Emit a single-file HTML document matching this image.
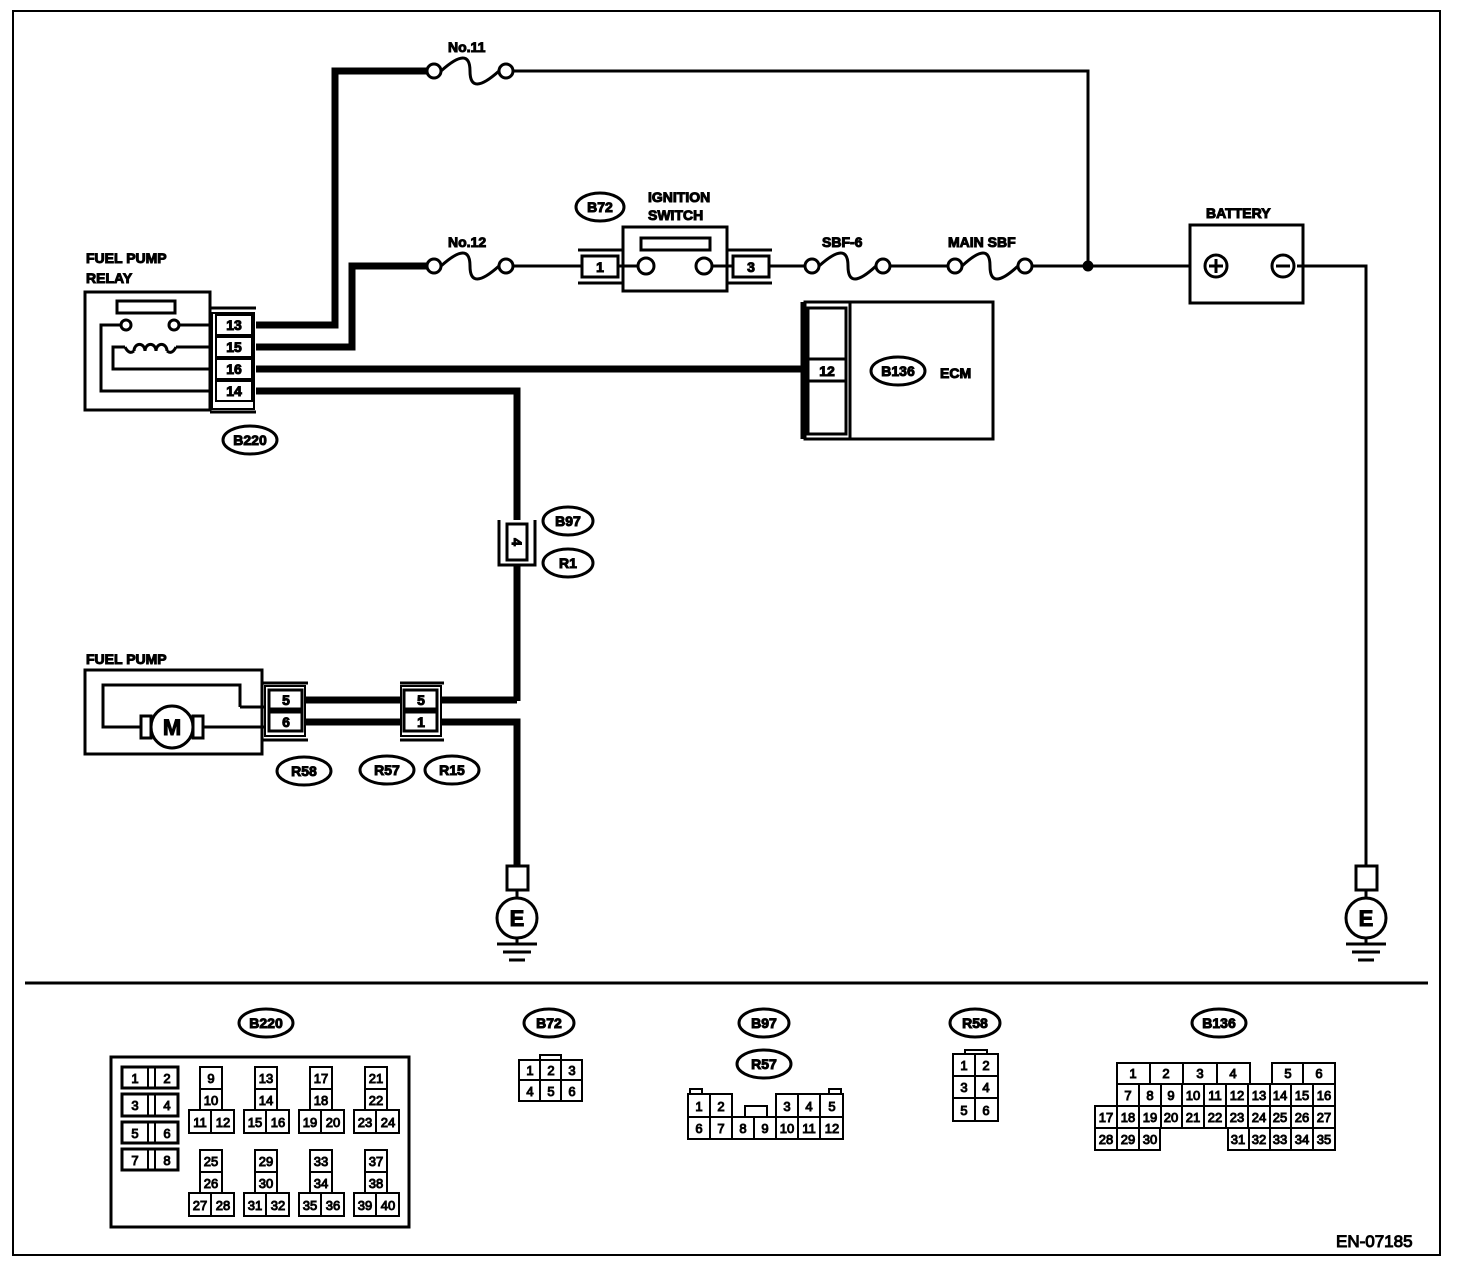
<!DOCTYPE html>
<html><head><meta charset="utf-8"><style>
body{margin:0;background:#fff}
svg text{font-family:"Liberation Sans",Arial,sans-serif;font-weight:bold;fill:#000}
svg text.n, svg g.n text{font-weight:normal}
</style></head><body>
<svg width="1472" height="1266" viewBox="0 0 1472 1266" xmlns="http://www.w3.org/2000/svg">
<g fill="none" stroke="#000">
<rect x="13" y="11" width="1427" height="1244" stroke-width="2"/>
<line x1="25" y1="983" x2="1428" y2="983" stroke-width="3"/>
<g stroke-width="7">
<polyline points="256,325 335,325 335,71 428,71"/>
<polyline points="256,347 352,347 352,266 428,266"/>
<line x1="256" y1="369" x2="808" y2="369"/>
<polyline points="256,391 517,391 517,520"/>
<line x1="517" y1="565" x2="517" y2="701"/>
<polyline points="305,700 401,700"/>
<polyline points="441,700 517,700"/>
<line x1="305" y1="722" x2="401" y2="722"/>
<polyline points="441,722 517,722 517,866"/>
</g>
<g stroke-width="3">
<polyline points="512,71 1088,71 1088,266"/>
<line x1="512" y1="266" x2="582" y2="266"/>
<line x1="769" y1="266" x2="806" y2="266"/>
<line x1="889" y1="266" x2="949" y2="266"/>
<line x1="1031" y1="266" x2="1190" y2="266"/>
<polyline points="1297,266 1366,266 1366,866"/>
<circle cx="434" cy="71" r="7"/><circle cx="506" cy="71" r="7"/><path d="M441,71 Q470,45 470,71 Q470,97 499,71"/>
<circle cx="434" cy="266" r="7"/><circle cx="506" cy="266" r="7"/><path d="M441,266 Q470,240 470,266 Q470,292 499,266"/>
<circle cx="812" cy="266" r="7"/><circle cx="883" cy="266" r="7"/><path d="M819,266 Q848,240 848,266 Q848,292 876,266"/>
<circle cx="955" cy="266" r="7"/><circle cx="1025" cy="266" r="7"/><path d="M962,266 Q990,240 990,266 Q990,292 1018,266"/>
<rect x="623" y="227" width="104" height="64"/>
<rect x="641" y="238" width="69" height="12"/>
<circle cx="646" cy="266" r="8"/><circle cx="704" cy="266" r="8"/>
<line x1="618" y1="266" x2="638" y2="266"/><line x1="712" y1="266" x2="733" y2="266"/>
<rect x="582" y="256" width="36" height="21"/><line x1="578" y1="250" x2="623" y2="250"/><line x1="578" y1="283" x2="623" y2="283"/>
<rect x="733" y="256" width="36" height="21"/><line x1="727" y1="250" x2="772" y2="250"/><line x1="727" y1="283" x2="772" y2="283"/>
<rect x="1190" y="225" width="113" height="78"/>
<circle cx="1216" cy="266" r="11"/><circle cx="1283" cy="266" r="11"/>
<line x1="1209" y1="266" x2="1223" y2="266"/><line x1="1216" y1="259" x2="1216" y2="273"/><line x1="1276" y1="266" x2="1290" y2="266"/>
<rect x="85" y="292" width="125" height="118"/>
<rect x="117" y="301" width="58" height="12"/>
<circle cx="126" cy="325" r="5"/><circle cx="174" cy="325" r="5"/>
<polyline points="121,325 101,325 101,391 212,391"/>
<line x1="179" y1="325" x2="212" y2="325"/>
<polyline points="212,347 176,347"/>
<path d="M125,347 q4,8 9,4 M176,347 q-4,8 -9,4"/>
<path d="M134,351 a5,6 0 1 1 11,0 a5,6 0 1 1 11,0 a5,6 0 1 1 11,0"/>
<polyline points="125,347 113,347 113,369 212,369"/>
<rect x="212" y="313" width="42" height="96" stroke-width="2"/>
<line x1="210" y1="308" x2="256" y2="308"/><line x1="210" y1="412" x2="256" y2="412"/>
<g stroke-width="2"><rect x="216" y="315" width="36" height="20"/><rect x="216" y="337" width="36" height="20"/><rect x="216" y="359" width="36" height="20"/><rect x="216" y="381" width="36" height="20"/></g>
<rect x="805" y="302" width="188" height="137"/>
<line x1="850" y1="302" x2="850" y2="439"/>
<rect x="808" y="308" width="38" height="126"/>
<rect x="808" y="359" width="38" height="22"/>
<line x1="802" y1="302" x2="802" y2="439"/>
<rect x="507" y="524" width="20" height="36"/>
<polyline points="499,520 499,565 535,565 535,520"/>
<rect x="85" y="670" width="177" height="84"/>
<polyline points="240,707 240,685 103,685 103,727 141,727"/>
<line x1="240" y1="707" x2="265" y2="707"/>
<line x1="203" y1="727" x2="265" y2="727"/>
<rect x="141" y="716" width="10" height="22"/><rect x="193" y="716" width="10" height="22"/>
<circle cx="172" cy="727" r="21"/>
<rect x="265" y="686" width="40" height="50" stroke-width="2"/>
<line x1="262" y1="683" x2="308" y2="683"/><line x1="262" y1="740" x2="308" y2="740"/>
<rect x="269" y="690" width="33" height="19"/><rect x="269" y="712" width="33" height="19"/>
<rect x="401" y="686" width="40" height="50" stroke-width="2"/>
<line x1="400" y1="683" x2="444" y2="683"/><line x1="400" y1="740" x2="444" y2="740"/>
<rect x="404" y="690" width="33" height="19"/><rect x="404" y="712" width="33" height="19"/>
<rect x="507" y="866" width="21" height="24"/><line x1="517" y1="890" x2="517" y2="898"/><circle cx="517" cy="918" r="20"/>
<line x1="517" y1="938" x2="517" y2="944"/><line x1="497" y1="944" x2="537" y2="944"/><line x1="503" y1="952" x2="531" y2="952"/><line x1="509" y1="960" x2="525" y2="960"/>
<rect x="1356" y="866" width="21" height="24"/><line x1="1366" y1="890" x2="1366" y2="898"/><circle cx="1366" cy="918" r="20"/>
<line x1="1366" y1="938" x2="1366" y2="944"/><line x1="1346" y1="944" x2="1386" y2="944"/><line x1="1352" y1="952" x2="1380" y2="952"/><line x1="1358" y1="960" x2="1374" y2="960"/>
<ellipse cx="250" cy="440" rx="27" ry="14"/><ellipse cx="600" cy="207" rx="24" ry="14"/>
<ellipse cx="898" cy="371" rx="27" ry="14"/>
<ellipse cx="568" cy="521" rx="25" ry="14"/><ellipse cx="568" cy="563" rx="25" ry="14"/>
<ellipse cx="304" cy="771" rx="27" ry="14"/><ellipse cx="387" cy="770" rx="27" ry="14"/><ellipse cx="452" cy="770" rx="27" ry="14"/>
<ellipse cx="266" cy="1023" rx="27" ry="14"/><ellipse cx="549" cy="1023" rx="25" ry="14"/>
<ellipse cx="764" cy="1023" rx="25" ry="14"/><ellipse cx="764" cy="1064" rx="27" ry="14"/>
<ellipse cx="975" cy="1023" rx="25" ry="14"/><ellipse cx="1219" cy="1023" rx="27" ry="14"/>
<rect x="111" y="1057" width="298" height="170" stroke-width="3"/>
<g stroke-width="2">
<rect x="122" y="1067" width="56" height="21" stroke-width="3"/><line x1="148" y1="1067" x2="148" y2="1088"/><line x1="155" y1="1067" x2="155" y2="1088"/>
<rect x="122" y="1094" width="56" height="22" stroke-width="3"/><line x1="148" y1="1094" x2="148" y2="1116"/><line x1="155" y1="1094" x2="155" y2="1116"/>
<rect x="122" y="1122" width="56" height="21" stroke-width="3"/><line x1="148" y1="1122" x2="148" y2="1143"/><line x1="155" y1="1122" x2="155" y2="1143"/>
<rect x="122" y="1149" width="56" height="21" stroke-width="3"/><line x1="148" y1="1149" x2="148" y2="1170"/><line x1="155" y1="1149" x2="155" y2="1170"/>
</g>
<g id="tw" stroke-width="2"><rect x="200" y="1067" width="22" height="43"/><line x1="200" y1="1089" x2="222" y2="1089"/><rect x="189" y="1110" width="45" height="23"/><line x1="211" y1="1110" x2="211" y2="1133"/></g>
<use href="#tw" x="55"/><use href="#tw" x="110"/><use href="#tw" x="165"/>
<use href="#tw" y="83"/><use href="#tw" x="55" y="83"/><use href="#tw" x="110" y="83"/><use href="#tw" x="165" y="83"/>
<g stroke-width="2"><rect x="519" y="1060" width="63" height="41"/><line x1="519" y1="1080" x2="582" y2="1080"/><line x1="540" y1="1060" x2="540" y2="1101"/><line x1="561" y1="1060" x2="561" y2="1101"/><rect x="540" y="1055" width="21" height="5"/></g>
<g stroke-width="2"><rect x="688" y="1117" width="155" height="22"/>
<polyline points="688,1117 688,1094 732,1094 732,1117"/><polyline points="776,1117 776,1094 843,1094 843,1117"/>
<rect x="745" y="1106" width="22" height="11"/><rect x="690" y="1089" width="12" height="5"/><rect x="829" y="1089" width="12" height="5"/>
<line x1="710" y1="1094" x2="710" y2="1139"/><line x1="732" y1="1117" x2="732" y2="1139"/><line x1="754" y1="1117" x2="754" y2="1139"/><line x1="776" y1="1117" x2="776" y2="1139"/><line x1="798" y1="1094" x2="798" y2="1139"/><line x1="820" y1="1094" x2="820" y2="1139"/></g>
<g stroke-width="2"><rect x="953" y="1054" width="45" height="67"/><line x1="953" y1="1076" x2="998" y2="1076"/><line x1="953" y1="1098" x2="998" y2="1098"/><line x1="975" y1="1054" x2="975" y2="1121"/><rect x="965" y="1050" width="22" height="4"/></g>
<g stroke-width="2">
<rect x="1117" y="1063" width="133" height="21"/><line x1="1150" y1="1063" x2="1150" y2="1084"/><line x1="1183" y1="1063" x2="1183" y2="1084"/><line x1="1217" y1="1063" x2="1217" y2="1084"/>
<rect x="1272" y="1063" width="63" height="21"/><line x1="1303" y1="1063" x2="1303" y2="1084"/>
<rect x="1117" y="1084" width="218" height="22"/>
<rect x="1095" y="1106" width="240" height="22"/>
<rect x="1095" y="1128" width="65" height="22"/><rect x="1228" y="1128" width="107" height="22"/>
<line x1="1139" y1="1084" x2="1139" y2="1106"/><line x1="1161" y1="1084" x2="1161" y2="1106"/><line x1="1182" y1="1084" x2="1182" y2="1106"/><line x1="1204" y1="1084" x2="1204" y2="1106"/><line x1="1226" y1="1084" x2="1226" y2="1106"/><line x1="1248" y1="1084" x2="1248" y2="1106"/><line x1="1270" y1="1084" x2="1270" y2="1106"/><line x1="1291" y1="1084" x2="1291" y2="1106"/><line x1="1313" y1="1084" x2="1313" y2="1106"/>
<line x1="1117" y1="1106" x2="1117" y2="1128"/><line x1="1139" y1="1106" x2="1139" y2="1128"/><line x1="1161" y1="1106" x2="1161" y2="1128"/><line x1="1182" y1="1106" x2="1182" y2="1128"/><line x1="1204" y1="1106" x2="1204" y2="1128"/><line x1="1226" y1="1106" x2="1226" y2="1128"/><line x1="1248" y1="1106" x2="1248" y2="1128"/><line x1="1270" y1="1106" x2="1270" y2="1128"/><line x1="1291" y1="1106" x2="1291" y2="1128"/><line x1="1313" y1="1106" x2="1313" y2="1128"/>
<line x1="1117" y1="1128" x2="1117" y2="1150"/><line x1="1139" y1="1128" x2="1139" y2="1150"/>
<line x1="1249" y1="1128" x2="1249" y2="1150"/><line x1="1270" y1="1128" x2="1270" y2="1150"/><line x1="1291" y1="1128" x2="1291" y2="1150"/><line x1="1313" y1="1128" x2="1313" y2="1150"/>
</g>
</g>
<circle cx="1088" cy="266" r="5" fill="#000"/>
<g font-size="14">
<text x="448" y="52">No.11</text><text x="448" y="247">No.12</text>
<text x="648" y="202">IGNITION</text><text x="648" y="220">SWITCH</text>
<text x="822" y="247">SBF-6</text><text x="948" y="247">MAIN SBF</text>
<text x="1206" y="218">BATTERY</text>
<text x="86" y="263">FUEL PUMP</text><text x="86" y="283">RELAY</text>
<text x="86" y="664">FUEL PUMP</text>
<text x="940" y="378">ECM</text>
</g>
<g font-size="14" text-anchor="middle">
<text x="234" y="330">13</text><text x="234" y="352">15</text><text x="234" y="374">16</text><text x="234" y="396">14</text>
<text x="600" y="272">1</text><text x="751" y="272">3</text>
<text x="827" y="376">12</text>
<text x="286" y="705">5</text><text x="286" y="727">6</text>
<text x="421" y="705">5</text><text x="421" y="727">1</text>
<text x="172" y="735" font-size="22">M</text>
<text x="517" y="926" font-size="22">E</text><text x="1366" y="926" font-size="22">E</text>
<text transform="translate(517,542) rotate(90)" y="5">4</text>
<text x="250" y="445">B220</text><text x="600" y="212">B72</text><text x="898" y="376">B136</text>
<text x="568" y="526">B97</text><text x="568" y="568">R1</text>
<text x="304" y="776">R58</text><text x="387" y="775">R57</text><text x="452" y="775">R15</text>
<text x="266" y="1028">B220</text><text x="549" y="1028">B72</text><text x="764" y="1028">B97</text><text x="764" y="1069">R57</text><text x="975" y="1028">R58</text><text x="1219" y="1028">B136</text>
</g>
<g font-size="13" text-anchor="middle" class="n">
<text x="135" y="1083">1</text><text x="167" y="1083">2</text><text x="135" y="1110">3</text><text x="167" y="1110">4</text><text x="135" y="1138">5</text><text x="167" y="1138">6</text><text x="135" y="1165">7</text><text x="167" y="1165">8</text>
<text x="211" y="1083">9</text><text x="211" y="1105">10</text><text x="200" y="1127">11</text><text x="223" y="1127">12</text>
<text x="266" y="1083">13</text><text x="266" y="1105">14</text><text x="255" y="1127">15</text><text x="278" y="1127">16</text>
<text x="321" y="1083">17</text><text x="321" y="1105">18</text><text x="310" y="1127">19</text><text x="333" y="1127">20</text>
<text x="376" y="1083">21</text><text x="376" y="1105">22</text><text x="365" y="1127">23</text><text x="388" y="1127">24</text>
<text x="211" y="1166">25</text><text x="211" y="1188">26</text><text x="200" y="1210">27</text><text x="223" y="1210">28</text>
<text x="266" y="1166">29</text><text x="266" y="1188">30</text><text x="255" y="1210">31</text><text x="278" y="1210">32</text>
<text x="321" y="1166">33</text><text x="321" y="1188">34</text><text x="310" y="1210">35</text><text x="333" y="1210">36</text>
<text x="376" y="1166">37</text><text x="376" y="1188">38</text><text x="365" y="1210">39</text><text x="388" y="1210">40</text>
<text x="530" y="1075">1</text><text x="551" y="1075">2</text><text x="572" y="1075">3</text><text x="530" y="1096">4</text><text x="551" y="1096">5</text><text x="572" y="1096">6</text>
<text x="699" y="1111">1</text><text x="721" y="1111">2</text><text x="787" y="1111">3</text><text x="809" y="1111">4</text><text x="832" y="1111">5</text>
<text x="699" y="1133">6</text><text x="721" y="1133">7</text><text x="743" y="1133">8</text><text x="765" y="1133">9</text><text x="787" y="1133">10</text><text x="809" y="1133">11</text><text x="832" y="1133">12</text>
<text x="964" y="1070">1</text><text x="986" y="1070">2</text><text x="964" y="1092">3</text><text x="986" y="1092">4</text><text x="964" y="1115">5</text><text x="986" y="1115">6</text>
<text x="1133" y="1078">1</text><text x="1166" y="1078">2</text><text x="1200" y="1078">3</text><text x="1233" y="1078">4</text><text x="1288" y="1078">5</text><text x="1319" y="1078">6</text>
<text x="1128" y="1100">7</text><text x="1150" y="1100">8</text><text x="1171" y="1100">9</text><text x="1193" y="1100">10</text><text x="1215" y="1100">11</text><text x="1237" y="1100">12</text><text x="1259" y="1100">13</text><text x="1280" y="1100">14</text><text x="1302" y="1100">15</text><text x="1324" y="1100">16</text>
<text x="1106" y="1122">17</text><text x="1128" y="1122">18</text><text x="1150" y="1122">19</text><text x="1171" y="1122">20</text><text x="1193" y="1122">21</text><text x="1215" y="1122">22</text><text x="1237" y="1122">23</text><text x="1259" y="1122">24</text><text x="1280" y="1122">25</text><text x="1302" y="1122">26</text><text x="1324" y="1122">27</text>
<text x="1106" y="1144">28</text><text x="1128" y="1144">29</text><text x="1150" y="1144">30</text><text x="1238" y="1144">31</text><text x="1259" y="1144">32</text><text x="1280" y="1144">33</text><text x="1302" y="1144">34</text><text x="1324" y="1144">35</text>
</g>
<text x="1336" y="1247" font-size="17" class="n">EN-07185</text>
</svg>
</body></html>
